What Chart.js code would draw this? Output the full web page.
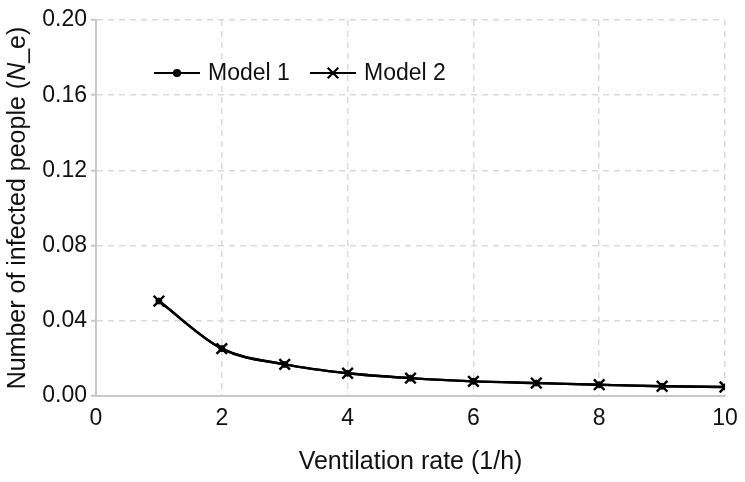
<!DOCTYPE html>
<html>
<head>
<meta charset="utf-8">
<script src="https://cdn.jsdelivr.net/npm/chart.js@4/dist/chart.umd.min.js"></script>
<style>
  body { margin: 0; background: #fff; }
  #wrap { width: 745px; height: 482px; }
</style>
</head>
<body>
<div id="wrap"><canvas id="chart"></canvas></div>
<script>
// Data
const rates = [1, 2, 3, 4, 5, 6, 7, 8, 9, 10];
const model1 = [0.0505, 0.0252, 0.0168, 0.0121, 0.0095, 0.0078, 0.0069, 0.0060, 0.0052, 0.0048];
const model2 = [0.0505, 0.0252, 0.0168, 0.0121, 0.0095, 0.0078, 0.0069, 0.0060, 0.0052, 0.0048];
const seriesNames = ['Model 1', 'Model 2'];

const FONT = 'Liberation Sans, Arial, sans-serif';
const TEXT = '#111';

// Legend drawn inside the plot, top-left
const insideLegend = {
  id: 'insideLegend',
  afterDraw(chart) {
    const ctx = chart.ctx;
    const y = 73;
    const items = [
      { x: 154, ds: chart.data.datasets[0] },
      { x: 310, ds: chart.data.datasets[1] }
    ];
    ctx.save();
    ctx.font = '23px ' + FONT;
    ctx.textBaseline = 'middle';
    items.forEach(it => {
      ctx.strokeStyle = '#000';
      ctx.fillStyle = '#000';
      ctx.lineWidth = 2.2;
      ctx.beginPath();
      ctx.moveTo(it.x, y);
      ctx.lineTo(it.x + 46, y);
      ctx.stroke();
      Chart.helpers.drawPoint(ctx, {
        pointStyle: it.ds.pointStyle,
        radius: it.ds.pointRadius,
        borderWidth: it.ds.pointBorderWidth
      }, it.x + 23, y);
      ctx.fillStyle = TEXT;
      ctx.fillText(it.ds.label, it.x + 54, y + 1);
    });
    ctx.restore();
  }
};

// Y axis title with an italic N
const yTitle = {
  id: 'yTitle',
  afterDraw(chart) {
    const ctx = chart.ctx;
    const area = chart.chartArea;
    const parts = [
      { text: 'Number of infected people (', font: '25px ' + FONT },
      { text: 'N', font: 'italic 25px ' + FONT },
      { text: '_e)', font: '25px ' + FONT }
    ];
    ctx.save();
    let total = 0;
    parts.forEach(p => { ctx.font = p.font; p.w = ctx.measureText(p.text).width; total += p.w; });
    ctx.translate(18, (area.top + area.bottom) / 2);
    ctx.rotate(-Math.PI / 2);
    ctx.fillStyle = TEXT;
    ctx.textBaseline = 'middle';
    let x = -total / 2;
    parts.forEach(p => { ctx.font = p.font; ctx.fillText(p.text, x, 0); x += p.w; });
    ctx.restore();
  }
};

new Chart(document.getElementById('chart'), {
  type: 'line',
  data: {
    datasets: [
      {
        label: seriesNames[0],
        data: rates.map((r, i) => ({ x: r, y: model1[i] })),
        borderColor: '#000',
        backgroundColor: '#000',
        borderWidth: 2.4,
        pointStyle: 'circle',
        pointRadius: 3,
        pointBorderWidth: 1,
        cubicInterpolationMode: 'monotone'
      },
      {
        label: seriesNames[1],
        data: rates.map((r, i) => ({ x: r, y: model2[i] })),
        borderColor: '#000',
        backgroundColor: '#000',
        borderWidth: 2.4,
        pointStyle: 'crossRot',
        pointRadius: 7.5,
        pointBorderWidth: 2.4,
        cubicInterpolationMode: 'monotone'
      }
    ]
  },
  options: {
    responsive: true,
    maintainAspectRatio: false,
    animation: false,
    layout: { padding: { top: 20, right: 20, left: 3, bottom: 2 } },
    plugins: {
      legend: { display: false },
      tooltip: { enabled: false }
    },
    scales: {
      x: {
        type: 'linear',
        min: 0,
        max: 10,
        ticks: { stepSize: 2, color: TEXT, font: { family: FONT, size: 23 }, padding: 9 },
        grid: { color: '#d9d9d9', lineWidth: 1.5, tickLength: 0 },
        border: { color: '#c8c8c8', width: 2, dash: [6, 5] },
        title: { display: true, text: 'Ventilation rate (1/h)', color: TEXT, font: { family: FONT, size: 25 }, padding: { top: 12, bottom: 3 } },
        afterFit(scale) {
          scale.height = 84;
          scale.paddingLeft = 0;
          scale.paddingRight = 0;
        }
      },
      y: {
        min: 0,
        max: 0.2,
        ticks: {
          stepSize: 0.04,
          color: TEXT,
          font: { family: FONT, size: 23 },
          padding: 4,
          callback: v => v.toFixed(2)
        },
        grid: { color: '#d9d9d9', lineWidth: 1.5, tickLength: 5, tickColor: '#c8c8c8', tickWidth: 2 },
        border: { color: '#c8c8c8', width: 2, dash: [6, 5] },
        title: { display: false },
        afterFit(scale) {
          scale.width = 93;
          scale.paddingTop = 0;
          scale.paddingBottom = 0;
        }
      }
    }
  },
  plugins: [insideLegend, yTitle]
});
</script>
</body>
</html>
